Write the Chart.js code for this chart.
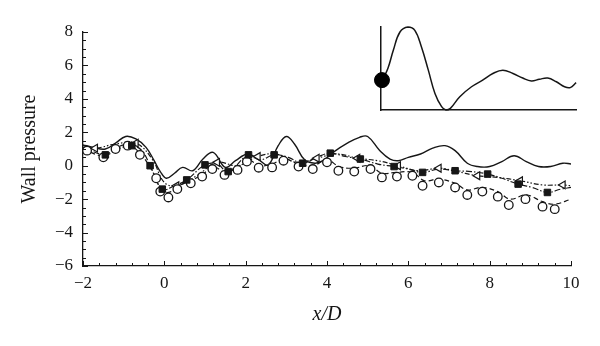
<!DOCTYPE html>
<html><head><meta charset="utf-8">
<script src="https://cdn.jsdelivr.net/npm/chart.js@4/dist/chart.umd.min.js"></script>
<style>
html,body{margin:0;padding:0;background:#fff;}
#wrap{position:relative;width:600px;height:346px;background:#fff;}
#main{position:absolute;left:0;top:0;width:600px;height:346px;}
#inset{position:absolute;left:370px;top:15px;width:215px;height:105px;}
</style></head><body>
<div id="wrap"><canvas id="main" width="600" height="346"></canvas><canvas id="inset" width="215" height="105"></canvas></div>
<script>
// ---- data ----
const xTicks = [-2, 0, 2, 4, 6, 8, 10];
const yTicks = [-6, -4, -2, 0, 2, 4, 6, 8];

const solidX = [-2, -1.75, -1.45, -1.2, -0.95, -0.7, -0.45, -0.25, -0.1, 0.05, 0.25, 0.45, 0.7, 0.95, 1.2, 1.5, 1.75, 2.05, 2.3, 2.55, 2.8, 3.0, 3.2, 3.45, 3.7, 3.9, 4.15, 4.5, 4.8, 5.0, 5.3, 5.55, 5.75, 6.0, 6.3, 6.6, 6.9, 7.15, 7.45, 7.7, 8.0, 8.3, 8.6, 8.9, 9.2, 9.5, 9.8, 10.0];
const solidY = [1.25, 1.1, 1.0, 1.35, 1.75, 1.6, 1.1, 0.3, -0.35, -0.75, -0.45, -0.1, -0.3, 0.4, 0.8, -0.1, 0.3, 0.7, 0.4, 0.05, 1.2, 1.75, 1.3, 0.35, 0.15, 0.3, 0.8, 1.35, 1.7, 1.75, 0.9, 0.4, 0.3, 0.5, 0.7, 1.05, 1.2, 0.9, 0.15, -0.05, -0.05, 0.25, 0.6, 0.25, -0.05, -0.05, 0.15, 0.1];

const dashDotX = [-2, -1.45, -1.15, -0.8, -0.55, -0.35, -0.05, 0.25, 0.55, 1.0, 1.3, 1.57, 2.07, 2.35, 2.7, 3.05, 3.4, 3.75, 4.08, 4.45, 4.82, 5.25, 5.65, 6.0, 6.35, 6.75, 7.15, 7.55, 7.95, 8.3, 8.7, 9.05, 9.42, 9.75, 10];
const dashDotY = [1.1, 0.65, 1.0, 1.2, 0.9, 0.0, -1.4, -1.2, -0.85, 0.05, 0.1, -0.35, 0.65, 0.35, 0.65, 0.5, 0.15, 0.5, 0.75, 0.55, 0.4, 0.1, -0.05, -0.2, -0.4, -0.2, -0.3, -0.35, -0.5, -0.75, -1.1, -1.3, -1.6, -1.4, -1.3];

const squareX = [-1.45, -0.8, -0.35, -0.05, 0.55, 1.0, 1.57, 2.07, 2.7, 3.4, 4.08, 4.82, 5.65, 6.35, 7.15, 7.95, 8.7, 9.42];
const squareY = [0.65, 1.2, 0.0, -1.4, -0.85, 0.05, -0.35, 0.65, 0.65, 0.15, 0.75, 0.4, -0.05, -0.4, -0.3, -0.5, -1.1, -1.6];

const dashedX = [-2, -1.5, -1.2, -0.9, -0.6, -0.3, -0.1, 0.1, 0.35, 0.65, 0.95, 1.2, 1.5, 1.8, 2.05, 2.35, 2.65, 2.95, 3.3, 3.65, 4.0, 4.3, 4.65, 5.05, 5.35, 5.7, 6.1, 6.4, 6.75, 7.15, 7.45, 7.8, 8.2, 8.5, 8.9, 9.3, 9.6, 10];
const dashedY = [1.0, 0.6, 1.05, 1.25, 0.75, -0.3, -1.3, -1.6, -1.2, -0.9, -0.5, -0.05, -0.4, -0.1, 0.35, 0.0, 0.1, 0.4, 0.1, 0.0, 0.35, -0.05, -0.15, 0.0, -0.45, -0.4, -0.4, -0.9, -0.8, -1.05, -1.45, -1.3, -1.55, -2.0, -1.75, -2.15, -2.3, -2.0];

const circleX = [-1.9, -1.5, -1.2, -0.9, -0.6, -0.2, -0.1, 0.1, 0.32, 0.65, 0.93, 1.18, 1.48, 1.8, 2.03, 2.32, 2.65, 2.93, 3.3, 3.65, 4.0, 4.28, 4.67, 5.07, 5.35, 5.72, 6.1, 6.35, 6.75, 7.15, 7.45, 7.82, 8.2, 8.47, 8.88, 9.3, 9.6];
const circleY = [0.9, 0.5, 1.0, 1.2, 0.65, -0.75, -1.55, -1.9, -1.4, -1.05, -0.65, -0.2, -0.55, -0.25, 0.25, -0.12, -0.1, 0.3, -0.05, -0.2, 0.2, -0.3, -0.35, -0.2, -0.7, -0.65, -0.6, -1.2, -1.0, -1.3, -1.75, -1.55, -1.85, -2.35, -2.0, -2.45, -2.6];

const dashDotDotX = [-2, -1.7, -1.2, -0.7, -0.3, 0.0, 0.3, 0.8, 1.3, 1.8, 2.3, 2.75, 3.25, 3.75, 4.25, 4.75, 5.25, 5.75, 6.25, 6.75, 7.2, 7.7, 8.2, 8.75, 9.3, 9.8, 10];
const dashDotDotY = [1.2, 1.05, 1.3, 1.35, 0.4, -1.0, -1.2, -0.6, 0.2, 0.0, 0.55, 0.7, 0.2, 0.45, 0.7, 0.45, 0.3, 0.0, -0.3, -0.15, -0.35, -0.6, -0.7, -0.9, -1.15, -1.15, -1.2];

const triangleX = [-1.7, -0.7, 0.3, 1.3, 2.3, 3.75, 4.75, 5.75, 6.75, 7.7, 8.75, 9.8];
const triangleY = [1.05, 1.35, -1.2, 0.2, 0.55, 0.45, 0.45, 0.0, -0.15, -0.6, -0.9, -1.15];

const insetX = [0.08, 0.36, 0.63, 0.97, 1.38, 1.73, 2.07, 2.42, 2.76, 3.1, 3.32, 3.55, 4.03, 4.63, 5.2, 5.72, 6.23, 6.75, 7.25, 7.69, 8.1, 8.53, 8.97, 9.39, 9.68, 9.98];
const insetY = [3.6, 5.06, 7.2, 9.4, 10.0, 9.6, 7.6, 4.8, 2.0, 0.4, 0.0, 0.2, 1.6, 2.8, 3.6, 4.4, 4.8, 4.4, 3.85, 3.5, 3.7, 3.85, 3.4, 2.8, 2.7, 3.3];
const insetDotX = [0.05];
const insetDotY = [3.6];

// ---- helpers ----
const pts = (xs, ys) => xs.map((x, i) => ({x: x, y: ys[i]}));
const fmt = v => v < 0 ? '\u2212' + Math.abs(v) : String(v);
const INK = '#161616';
const FONT = "'Liberation Serif', 'Times New Roman', serif";

const inwardTicks = {
  id: 'inwardTicks',
  afterDraw(chart) {
    const {ctx, chartArea: ca, scales: {x, y}} = chart;
    ctx.save();
    ctx.strokeStyle = INK;
    ctx.lineWidth = 1;
    ctx.beginPath();
    for (let i = 0; i <= 30; i++) {
      const v = -2 + i * 0.4;
      const px = Math.round(x.getPixelForValue(v)) + 0.5;
      const len = i % 5 === 0 ? 5 : 3;
      ctx.moveTo(px, ca.bottom);
      ctx.lineTo(px, ca.bottom - len);
    }
    for (let i = 0; i <= 28; i++) {
      const v = -6 + i * 0.5;
      const py = Math.round(y.getPixelForValue(v)) + 0.5;
      const len = i % 4 === 0 ? 5 : 3;
      ctx.moveTo(ca.left, py);
      ctx.lineTo(ca.left + len, py);
    }
    ctx.stroke();
    ctx.restore();
  }
};

const lineDs = (xs, ys, dash, order, width) => ({
  type: 'line', data: pts(xs, ys), borderColor: INK, borderWidth: width || 1.2,
  borderDash: dash, pointRadius: 0, tension: 0.4, fill: false, order: order
});

new Chart(document.getElementById('main'), {
  type: 'line',
  data: {
    datasets: [
      {type: 'scatter', data: pts(squareX, squareY), pointStyle: 'rect', pointRadius: 4.6,
       backgroundColor: INK, borderColor: INK, borderWidth: 1, showLine: false, order: 0},
      {type: 'scatter', data: pts(circleX, circleY), pointStyle: 'circle', pointRadius: 4.3,
       backgroundColor: '#fff', borderColor: INK, borderWidth: 1.3, showLine: false, order: 0},
      {type: 'scatter', data: pts(triangleX, triangleY), pointStyle: 'triangle', pointRotation: -90, pointRadius: 4.5,
       backgroundColor: '#fff', borderColor: INK, borderWidth: 1.2, showLine: false, order: 0},
      lineDs(solidX, solidY, [], 1, 1.4),
      lineDs(dashDotX, dashDotY, [6, 2, 1.5, 2], 2),
      lineDs(dashedX, dashedY, [5, 3], 3),
      lineDs(dashDotDotX, dashDotDotY, [5, 2, 1.5, 2, 1.5, 2], 4)
    ]
  },
  options: {
    responsive: false, animation: false, events: [],
    layout: {padding: {left: 0, top: 32, right: 29, bottom: 0}},
    plugins: {legend: {display: false}, tooltip: {enabled: false}},
    scales: {
      x: {
        type: 'linear', min: -2, max: 10,
        afterBuildTicks: s => { s.ticks = xTicks.map(v => ({value: v})); },
        afterFit: s => { s.height = 80; },
        grid: {display: false, drawTicks: false},
        border: {display: true, color: INK, width: 1.3},
        ticks: {color: INK, padding: 7, font: {family: FONT, size: 17}, callback: fmt, maxRotation: 0, autoSkip: false},
        title: {display: true, text: 'x/D', color: INK, padding: {top: 0, bottom: 19},
                font: {family: FONT, size: 20, style: 'italic'}}
      },
      y: {
        type: 'linear', min: -6, max: 8,
        afterBuildTicks: s => { s.ticks = yTicks.map(v => ({value: v})); },
        afterFit: s => { s.width = 83; },
        grid: {display: false, drawTicks: false},
        border: {display: true, color: INK, width: 1.3},
        ticks: {color: INK, padding: 10, font: {family: FONT, size: 17}, callback: fmt, autoSkip: false},
        title: {display: true, text: 'Wall pressure', color: INK, padding: {top: 18, bottom: 0},
                font: {family: FONT, size: 20}}
      }
    }
  },
  plugins: [inwardTicks]
});

new Chart(document.getElementById('inset'), {
  type: 'line',
  data: {
    datasets: [
      {type: 'scatter', data: pts(insetDotX, insetDotY), pointRadius: 7.5, backgroundColor: '#000',
       borderColor: '#000', showLine: false, order: 0, clip: false},
      {type: 'line', data: pts(insetX, insetY), borderColor: INK, borderWidth: 1.5, pointRadius: 0,
       tension: 0.4, fill: false, order: 1, clip: false}
    ]
  },
  options: {
    responsive: false, animation: false, events: [],
    layout: {padding: {left: 11, top: 12, right: 8, bottom: 10}},
    plugins: {legend: {display: false}, tooltip: {enabled: false}},
    scales: {
      x: {type: 'linear', min: 0, max: 10, ticks: {display: false}, grid: {display: false, drawTicks: false},
          border: {display: true, color: INK, width: 1.5}, afterFit: s => { s.height = 0; }},
      y: {type: 'linear', min: 0, max: 10, ticks: {display: false}, grid: {display: false, drawTicks: false},
          border: {display: true, color: INK, width: 1.5}, afterFit: s => { s.width = 0; }}
    }
  }
});
</script>
</body></html>
